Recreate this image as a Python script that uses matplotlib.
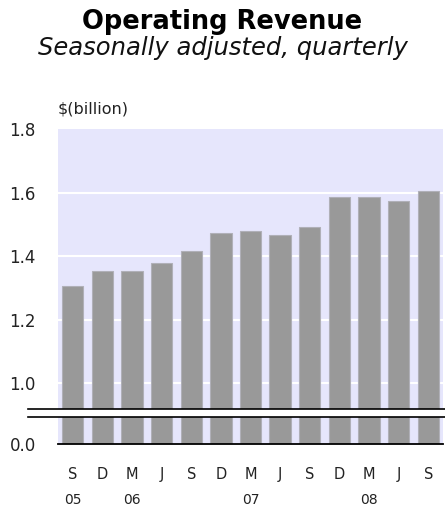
import matplotlib
matplotlib.use('Agg')
import matplotlib.pyplot as plt
import matplotlib.transforms as mtransforms
import numpy as np

# data
quarters = ['S', 'D', 'M', 'J', 'S', 'D', 'M', 'J', 'S', 'D', 'M', 'J', 'S']
years = ['05', '06', '07', '08']
year_pos = [0, 2, 6, 10]
revenue = [1.305, 1.354, 1.354, 1.379, 1.417, 1.473, 1.479, 1.467, 1.492,
           1.586, 1.586, 1.573, 1.604]
y_ticks = [0.0, 1.0, 1.2, 1.4, 1.6, 1.8]

# broken axis: everything below 0.9 is squeezed
CUT = 0.9
Z0 = 0.8075
K = (CUT - Z0) / CUT


def forward(y):
    y = np.asarray(y, dtype=float)
    return np.where(y >= CUT, y, Z0 + y * K)


def inverse(f):
    f = np.asarray(f, dtype=float)
    return np.where(f >= CUT, f, (f - Z0) / K)


fig = plt.figure(figsize=(4.45, 5.08), dpi=100)
ax = fig.add_axes([58 / 445, 63.7 / 508, 385 / 445, 315.3 / 508])
ax.set_facecolor('#e6e6fc')
ax.set_yscale('function', functions=(forward, inverse))

x = np.arange(len(revenue))
ax.bar(x, revenue, width=0.72, color='#999999', edgecolor='#b0b0b8',
       linewidth=0.8, zorder=2)

ax.set_xlim(-0.5, len(revenue) - 0.5)
ax.set_ylim(0, 1.793)

for g in [1.0, 1.2, 1.4, 1.6]:
    ax.axhline(g, color='white', lw=1.5, zorder=1)

ax.set_yticks(y_ticks)
ax.set_yticklabels([f'{v:.1f}' for v in y_ticks], fontsize=12, color='#222222')
ax.yaxis.set_minor_locator(matplotlib.ticker.NullLocator())
ax.set_xticks(x)
ax.set_xticklabels(quarters, fontsize=10.5, color='#222222')
ax.tick_params(axis='both', length=0)
ax.tick_params(axis='y', pad=16)
ax.tick_params(axis='x', pad=16)

for s in ['top', 'right', 'left']:
    ax.spines[s].set_visible(False)
ax.spines['bottom'].set_color('black')
ax.spines['bottom'].set_linewidth(1.3)
ax.spines['bottom'].set_zorder(5)

# axis break marks
trans = mtransforms.blended_transform_factory(ax.transAxes, ax.transData)
ax.fill_between([-0.078, 1.01], 0.838, 0.92, transform=trans, color='white',
                clip_on=False, zorder=4, lw=0)
for yb in [0.838, 0.92]:
    ax.plot([-0.078, 1.01], [yb, yb], transform=trans, color='black',
            lw=1.2, clip_on=False, zorder=5)

# years under the quarter labels
trans_x = mtransforms.blended_transform_factory(ax.transData, ax.transAxes)
for p, yr in zip(year_pos, years):
    ax.text(p, -0.178, yr, transform=trans_x, ha='center', va='center',
            fontsize=10, color='#222222')

ax.text(0.0, 1.04, '$(billion)', transform=ax.transAxes, ha='left',
        va='bottom', fontsize=11.5, color='#222222')

fig.text(0.5, 1 - 22 / 508, 'Operating Revenue', ha='center', va='center',
         fontsize=18.5, fontweight='bold')
fig.text(0.5, 1 - 48 / 508, 'Seasonally adjusted, quarterly', ha='center',
         va='center', fontsize=17.5, style='italic', color='#111111')

fig.savefig('out.png', dpi=100)
